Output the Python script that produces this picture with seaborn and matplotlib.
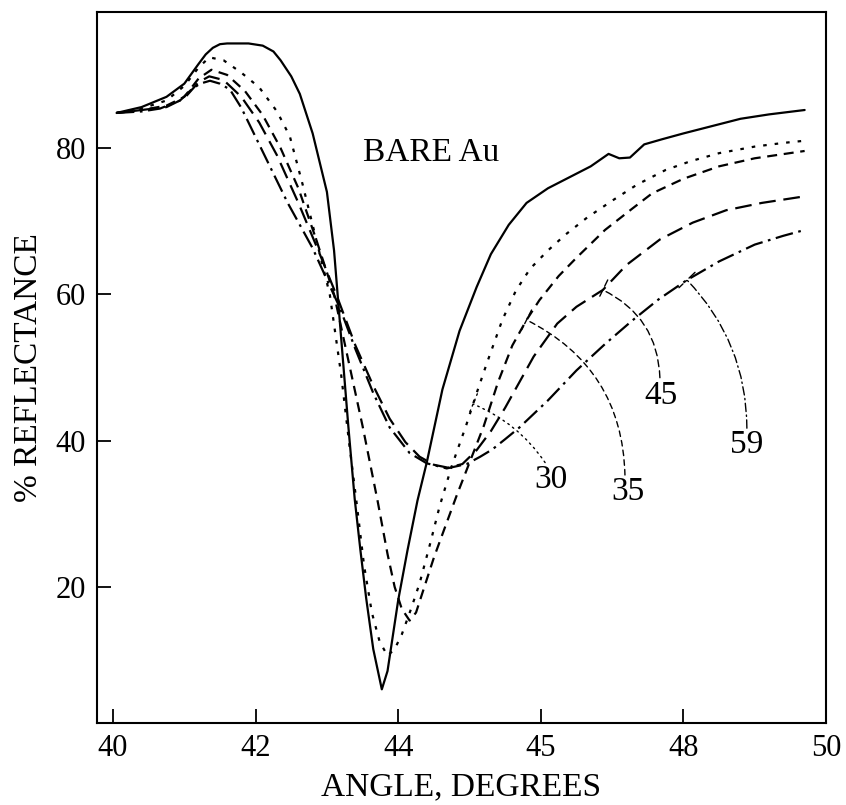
import matplotlib
matplotlib.use('Agg')
import matplotlib.pyplot as plt
from matplotlib.patches import ArrowStyle
import seaborn as sns
import numpy as np
import pandas as pd

# --- curve readings (angle in degrees, % reflectance) ---
ang_bare = [40.05, 40.4, 40.75, 41.0, 41.2, 41.3, 41.4, 41.5, 41.6, 41.9, 42.1, 42.25, 42.35,
            42.5, 42.62, 42.8, 43.0, 43.1, 43.2, 43.3, 43.39, 43.47, 43.55, 43.65, 43.77,
            43.85, 44.0, 44.13, 44.27, 44.4, 44.62, 44.86, 45.1, 45.3, 45.55, 45.8, 46.1,
            46.4, 46.7, 46.95, 47.1, 47.25, 47.45, 47.7, 48.0, 48.4, 48.8, 49.2, 49.7]
refl_bare = [84.8, 85.6, 87.0, 88.8, 91.5, 92.8, 93.7, 94.2, 94.3, 94.3, 94.0, 93.2, 92.0,
             89.8, 87.4, 82.0, 74.0, 66.0, 54.0, 42.0, 32.0, 25.0, 18.5, 11.5, 6.0,
             8.5, 18.2, 25.0, 31.8, 37.0, 47.0, 55.0, 61.0, 65.5, 69.5, 72.5, 74.5,
             76.0, 77.5, 79.2, 78.6, 78.7, 80.5, 81.2, 82.0, 83.0, 84.0, 84.6, 85.2]

ang_30 = [40.05, 40.4, 40.75, 41.0, 41.2, 41.35, 41.55, 41.8, 42.05, 42.3, 42.48, 42.66,
          42.85, 43.04, 43.2, 43.32, 43.41, 43.52, 43.63, 43.74, 43.85, 43.95, 44.05,
          44.18, 44.3, 44.45, 44.58, 44.75, 44.95, 45.1, 45.24, 45.46, 45.65, 45.85,
          46.1, 46.35, 46.65, 47.0, 47.35, 47.75, 48.1, 48.5, 49.0, 49.4, 49.7]
refl_30 = [84.8, 85.4, 86.5, 88.5, 91.0, 92.4, 92.0, 90.3, 88.3, 85.0, 81.6, 75.0,
           67.5, 60.0, 49.0, 39.0, 32.0, 23.0, 16.5, 12.5, 10.6, 11.5, 13.5,
           17.0, 20.5, 26.0, 31.0, 36.5, 42.0, 46.5, 50.5, 56.5, 60.5, 63.5,
           66.0, 68.2, 70.5, 72.8, 75.0, 77.0, 78.2, 79.3, 80.2, 80.7, 81.0]

ang_35 = [40.05, 40.4, 40.75, 41.0, 41.2, 41.38, 41.6, 41.85, 42.1, 42.35, 42.6, 42.85,
          43.1, 43.3, 43.5, 43.71, 43.85, 43.95, 44.05, 44.16, 44.25, 44.35, 44.5,
          44.65, 44.82, 45.0, 45.2, 45.4, 45.6, 45.8, 45.98, 46.25, 46.5, 46.9,
          47.28, 47.56, 48.0, 48.5, 49.0, 49.7]
refl_35 = [84.8, 85.2, 85.8, 87.0, 89.5, 90.7, 90.0, 87.8, 84.5, 80.0, 74.5, 67.5,
           60.0, 51.0, 42.0, 31.8, 24.5, 20.0, 17.0, 15.4, 16.5, 19.5, 24.0,
           28.0, 32.5, 37.0, 42.0, 48.0, 53.0, 56.5, 59.2, 62.5, 65.0, 68.8,
           71.7, 73.8, 75.8, 77.5, 78.6, 79.6]

ang_45 = [40.05, 40.4, 40.75, 41.0, 41.2, 41.35, 41.55, 41.8, 42.05, 42.3, 42.6, 42.9,
          43.15, 43.4, 43.65, 43.88, 44.1, 44.3, 44.5, 44.7, 44.9, 45.1, 45.3, 45.5,
          45.7, 45.9, 46.23, 46.5, 46.87, 47.2, 47.67, 48.13, 48.6, 49.1, 49.7]
refl_45 = [84.8, 85.2, 85.6, 86.8, 89.0, 89.8, 89.3, 87.0, 83.5, 79.0, 72.5, 65.5,
           59.5, 53.0, 47.5, 43.0, 39.8, 37.8, 36.7, 36.3, 36.8, 38.7, 41.3, 44.5,
           48.0, 51.5, 56.0, 58.3, 60.6, 64.0, 67.5, 69.8, 71.5, 72.5, 73.4]

ang_59 = [40.05, 40.4, 40.66, 40.94, 41.1, 41.22, 41.36, 41.5, 41.64, 41.8, 42.0, 42.2,
          42.45, 42.62, 42.8, 43.0, 43.18, 43.4, 43.65, 43.88, 44.16, 44.4, 44.68,
          44.96, 45.15, 45.32, 45.5, 45.7, 46.1, 46.5, 46.9, 47.28, 47.65, 48.04,
          48.5, 49.0, 49.4, 49.7]
refl_59 = [84.8, 85.0, 85.4, 86.5, 88.0, 88.8, 89.2, 88.8, 88.0, 85.5, 81.5, 77.5,
           72.5, 69.5, 66.3, 62.0, 58.2, 52.5, 46.5, 41.8, 38.3, 36.9, 36.2,
           36.8, 37.8, 38.8, 40.2, 41.8, 45.5, 49.6, 53.2, 56.4, 59.3, 61.9,
           64.5, 66.8, 68.0, 68.8]

x_ticks = [40, 42, 44, 46, 48, 50]
x_tick_labels = ['40', '42', '44', '45', '48', '50']
y_ticks = [20, 40, 60, 80]

sns.set_style('white')
plt.rcParams['font.family'] = ['Liberation Serif', 'DejaVu Serif']
plt.rcParams['text.color'] = 'black'
plt.rcParams['axes.labelcolor'] = 'black'
plt.rcParams['xtick.color'] = 'black'
plt.rcParams['ytick.color'] = 'black'

fig = plt.figure(figsize=(8.46, 8.05), dpi=100)
ax = fig.add_axes([0.1147, 0.1019, 0.8617, 0.8832])

curves = {
    'bare': (ang_bare, refl_bare, '-'),
    '30': (ang_30, refl_30, (0, (1.6, 3.6))),
    '35': (ang_35, refl_35, (0, (4.5, 3.0))),
    '45': (ang_45, refl_45, (0, (7.5, 3.5))),
    '59': (ang_59, refl_59, (0, (8.0, 2.5, 1.2, 2.5))),
}
for name, (a, r, ls) in curves.items():
    df = pd.DataFrame({'angle': a, 'refl': r})
    sns.lineplot(data=df, x='angle', y='refl', ax=ax, color='black',
                 linewidth=1.6, linestyle=ls, sort=False)

# curve labels with leader lines
labels = [
    # name, text x, text y, leader start x, y, leader end x, leader style, rad
    ('30', 46.14, 34.6, 46.06, 37.0, 45.05, (0, (1.2, 3.0)), 0.15),
    ('35', 47.22, 33.0, 47.18, 35.3, 45.80, (0, (4.0, 3.0)), 0.3),
    ('45', 47.69, 46.2, 47.67, 48.6, 46.87, (0, (5.0, 3.0)), 0.3),
    ('59', 48.88, 39.4, 48.89, 41.7, 48.05, (0, (6.0, 2.5, 1.0, 2.5)), 0.2),
]
for name, tx, ty, sx, sy, ex, ls, rad in labels:
    a, r, _ = curves[name]
    ey = np.interp(ex, a, r)
    ax.text(tx, ty, name, fontsize=24, ha='center', va='center', color='black')
    ax.annotate('', xy=(ex, ey), xytext=(sx, sy),
                arrowprops=dict(arrowstyle=ArrowStyle('-[', widthB=0.8, lengthB=0),
                                color='black', lw=1.0, linestyle=ls,
                                connectionstyle=f'arc3,rad={rad}',
                                shrinkA=0, shrinkB=0))

ax.text(44.46, 79.4, 'BARE Au', fontsize=24, ha='center', va='center', color='black')

ax.set_xlim(39.776, 50)
ax.set_ylim(1.4, 98.6)
ax.set_xticks(x_ticks)
ax.set_xticklabels(x_tick_labels)
ax.set_yticks(y_ticks)
ax.tick_params(direction='in', length=10, width=1.3, labelsize=22, pad=8,
               bottom=True, left=True, top=False, right=False, colors='black')
for sp in ax.spines.values():
    sp.set_color('black')
    sp.set_linewidth(1.5)
ax.set_xlabel('ANGLE, DEGREES', fontsize=24, labelpad=6, color='black')
ax.set_ylabel('% REFLECTANCE', fontsize=24, labelpad=8, color='black')

fig.savefig('out.png', dpi=100)
